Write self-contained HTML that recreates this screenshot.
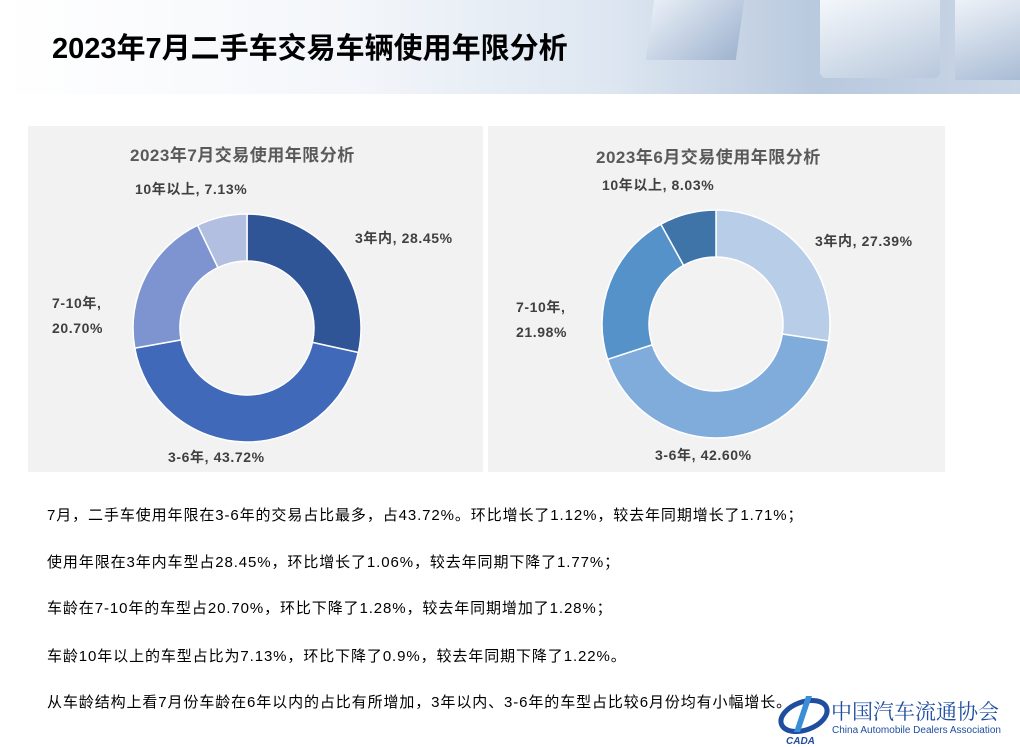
<!DOCTYPE html>
<html><head><meta charset="utf-8">
<style>
body{margin:0;width:1020px;height:747px;background:#fff;position:relative;overflow:hidden;font-family:"Liberation Sans","Noto Sans CJK SC",sans-serif;}
#header{position:absolute;left:0;top:0;width:1020px;height:94px;background:linear-gradient(90deg,#ffffff 0%,#f3f6fa 35%,#dde6f1 60%,#b9c9de 80%,#c9d6e6 100%);}
#title{position:absolute;left:52px;top:25px;font-size:29px;font-weight:bold;color:#000;white-space:nowrap}
.panel{position:absolute;top:126px;height:346px;background:#f2f2f2;}
.lbl{position:absolute;font-size:14px;letter-spacing:0.6px;font-weight:bold;color:#404040;white-space:nowrap;line-height:25px}
.ptitle{position:absolute;font-size:17px;letter-spacing:0.5px;font-weight:bold;color:#595959;white-space:nowrap}
.txt{position:absolute;left:47px;font-size:15px;letter-spacing:0.9px;color:#000;white-space:nowrap}
</style></head><body>
<div id="header">
<div style="position:absolute;left:650px;top:0;width:90px;height:60px;background:linear-gradient(135deg,#e8eef6,#9fb4cf);transform:skewX(-8deg)"></div>
<div style="position:absolute;left:820px;top:0;width:120px;height:78px;background:linear-gradient(160deg,#f4f7fb,#b8c8dc);border-radius:0 0 6px 6px"></div>
<div style="position:absolute;left:955px;top:0;width:65px;height:80px;background:linear-gradient(160deg,#eef2f8,#a9bcd5)"></div>
</div>
<div id="title">2023年7月二手车交易车辆使用年限分析</div>

<div class="panel" style="left:28px;width:455px"></div>
<div class="panel" style="left:488px;width:457px"></div>
<div class="ptitle" style="left:130px;top:141px">2023年7月交易使用年限分析</div>
<div class="ptitle" style="left:596px;top:143px">2023年6月交易使用年限分析</div>

<svg id="charts" width="1020" height="747" style="position:absolute;left:0;top:0"></svg>

<div class="lbl" style="left:135px;top:177px">10年以上, 7.13%</div>
<div class="lbl" style="left:355px;top:226px">3年内, 28.45%</div>
<div class="lbl" style="left:52px;top:291px">7-10年,<br>20.70%</div>
<div class="lbl" style="left:168px;top:445px">3-6年, 43.72%</div>
<div class="lbl" style="left:602px;top:173px">10年以上, 8.03%</div>
<div class="lbl" style="left:815px;top:229px">3年内, 27.39%</div>
<div class="lbl" style="left:516px;top:295px">7-10年,<br>21.98%</div>
<div class="lbl" style="left:655px;top:443px">3-6年, 42.60%</div>

<div class="txt" style="top:504px">7月，二手车使用年限在3-6年的交易占比最多，占43.72%。环比增长了1.12%，较去年同期增长了1.71%；</div>
<div class="txt" style="top:551px">使用年限在3年内车型占28.45%，环比增长了1.06%，较去年同期下降了1.77%；</div>
<div class="txt" style="top:597px">车龄在7-10年的车型占20.70%，环比下降了1.28%，较去年同期增加了1.28%；</div>
<div class="txt" style="top:645px">车龄10年以上的车型占比为7.13%，环比下降了0.9%，较去年同期下降了1.22%。</div>
<div class="txt" style="top:691px">从车龄结构上看7月份车龄在6年以内的占比有所增加，3年以内、3-6年的车型占比较6月份均有小幅增长。</div>

<div style="position:absolute;left:776px;top:690px;width:244px;height:57px">
<svg width="56" height="54" style="position:absolute;left:0;top:2px"><ellipse cx="28" cy="24" rx="24" ry="14" fill="none" stroke="#1f4ea1" stroke-width="5" transform="rotate(-20 28 24)"/><path d="M30 4 L36 4 L24 40 L18 40Z" fill="#3a8ed8"/><text x="10" y="52" font-size="10" font-style="italic" font-weight="bold" fill="#1f4ea1">CADA</text></svg>
<div style="position:absolute;left:55px;top:6px;font-size:21px;color:#1f4ea1;font-family:'Noto Serif CJK SC',serif;white-space:nowrap">中国汽车流通协会</div>
<div style="position:absolute;left:56px;top:35px;font-size:10px;color:#1f4ea1;white-space:nowrap">China Automobile Dealers Association</div>
</div>

<script>
const categories=["3年内","3-6年","7-10年","10年以上"];
const julyValues=[28.45,43.72,20.70,7.13];
const juneValues=[27.39,42.60,21.98,8.03];
const julyColors=["#2f5597","#4169b9","#7d94d0","#b2bfe0"];
const juneColors=["#b7cde8","#80acdc","#5592c9","#3f74a9"];
const svg=document.getElementById('charts');
const NS="http://www.w3.org/2000/svg";
function donut(values,colors,cx,cy,ro,ri,prefix){
  const total=values.reduce((a,b)=>a+b,0);
  let a0=-Math.PI/2;
  values.forEach((v,i)=>{
    const a1=a0+v/total*2*Math.PI;
    const large=(a1-a0)>Math.PI?1:0;
    const p=(r,a)=>[cx+r*Math.cos(a),cy+r*Math.sin(a)];
    const [x0,y0]=p(ro,a0),[x1,y1]=p(ro,a1),[x2,y2]=p(ri,a1),[x3,y3]=p(ri,a0);
    const path=document.createElementNS(NS,'path');
    path.setAttribute('d',`M${x0} ${y0}A${ro} ${ro} 0 ${large} 1 ${x1} ${y1}L${x2} ${y2}A${ri} ${ri} 0 ${large} 0 ${x3} ${y3}Z`);
    path.setAttribute('fill',colors[i]);
    path.setAttribute('stroke','#fff');
    path.setAttribute('stroke-width','1.5');
    
    
    svg.appendChild(path);
    a0=a1;
  });
}
donut(julyValues,julyColors,247,328,114,67,'july');
donut(juneValues,juneColors,716,324,114,67,'june');
</script>
</body></html>
